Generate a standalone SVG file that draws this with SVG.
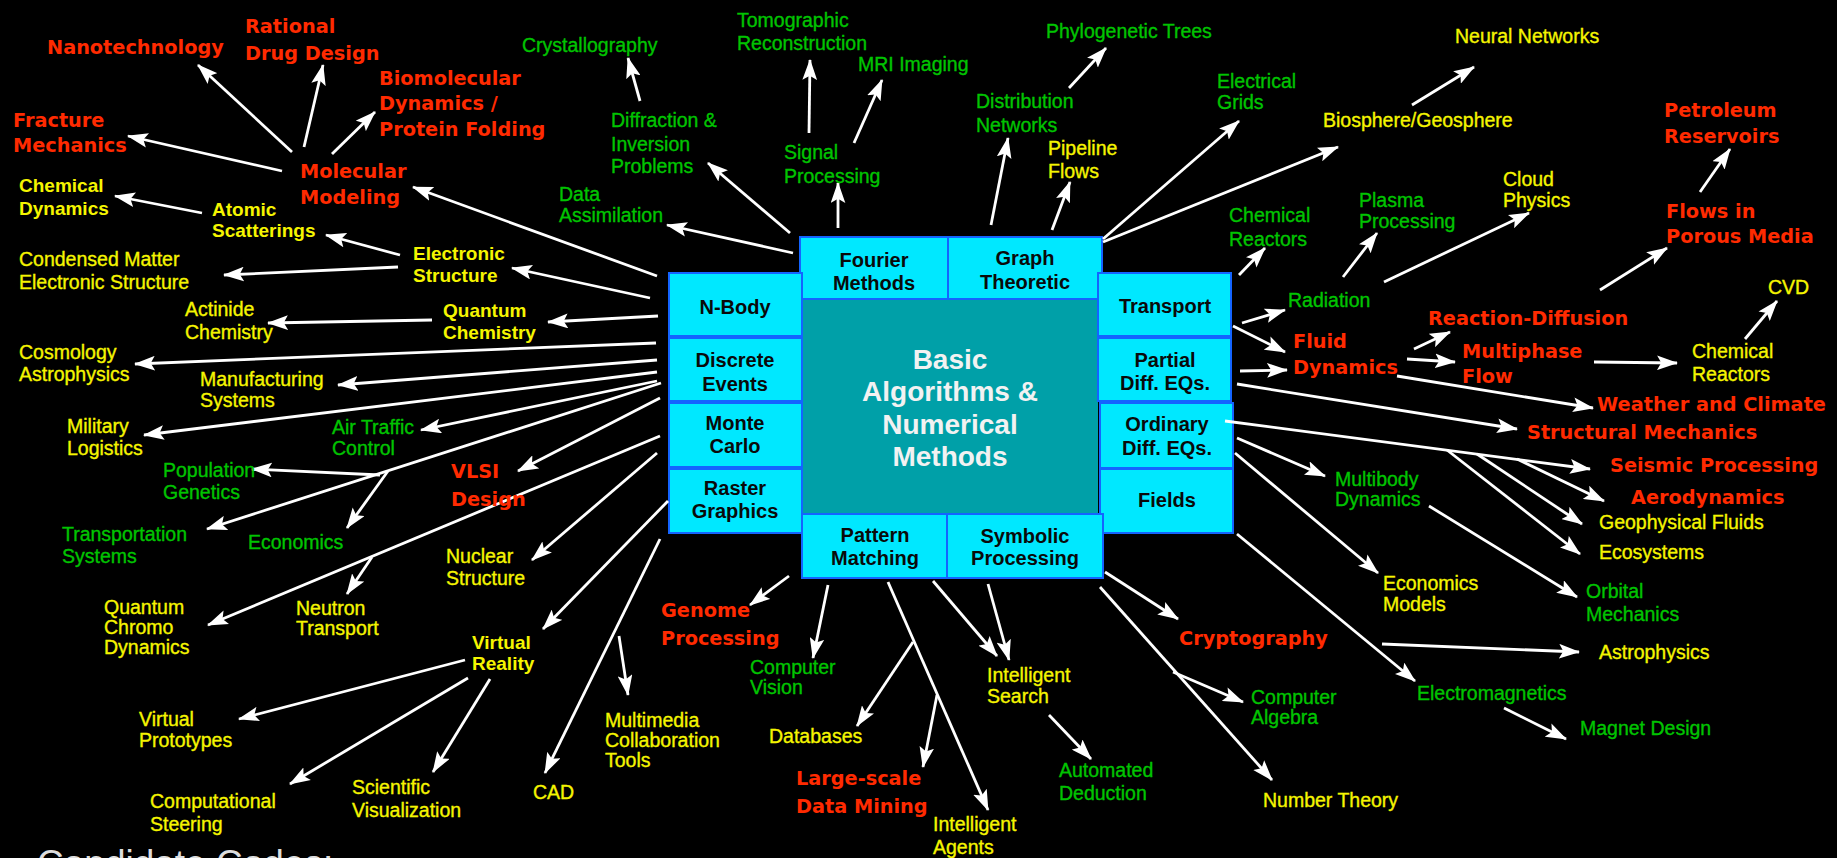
<svg xmlns="http://www.w3.org/2000/svg" width="1837" height="858" viewBox="0 0 1837 858">
<style>
.r{font-family:"DejaVu Sans","Liberation Sans",sans-serif;font-weight:bold;font-size:19.3px;fill:#FF2A00}
.y{font-family:"Liberation Sans",Arial,sans-serif;font-size:19.5px;fill:#F5F500;stroke:#F5F500;stroke-width:0.35}
.yb{font-family:"Liberation Sans",Arial,sans-serif;font-weight:bold;font-size:19px;fill:#F5F500}
.g{font-family:"Liberation Sans",Arial,sans-serif;font-size:19.5px;fill:#00C400;stroke:#00C400;stroke-width:0.35}
.box{fill:#00E8FF;stroke:#1464FF;stroke-width:2}
.bt{font-family:"Liberation Sans",Arial,sans-serif;font-weight:bold;font-size:20px;fill:#0A0A0A;text-anchor:middle}
.ct{font-family:"Liberation Sans",Arial,sans-serif;font-weight:bold;font-size:28px;fill:#F2F2F2;text-anchor:middle}
#connectors line{stroke:#FFFFFF;stroke-width:2.8;marker-end:url(#ah)}
</style>
<defs>
<marker id="ah" viewBox="0 0 20 14" refX="19" refY="7" markerWidth="21" markerHeight="15" markerUnits="userSpaceOnUse" orient="auto">
<path d="M0,0 L20,7 L0,14 L4,7 z" fill="#FFFFFF"/>
</marker>
</defs>
<rect x="0" y="0" width="1837" height="858" fill="#000000"/>

<g id="core">
<rect id="center" x="802" y="299" width="296" height="215" fill="#00A0A8"/>
<text class="ct"><tspan x="950" y="369">Basic</tspan><tspan x="950" y="401">Algorithms &amp;</tspan><tspan x="950" y="434">Numerical</tspan><tspan x="950" y="466">Methods</tspan></text>
</g>
<g id="fourier"><rect class="box" x="800" y="237" width="148" height="62"/><text class="bt"><tspan x="874" y="267">Fourier</tspan><tspan x="874" y="290">Methods</tspan></text></g>
<g id="graph"><rect class="box" x="948" y="237" width="154" height="62"/><text class="bt"><tspan x="1025" y="265">Graph</tspan><tspan x="1025" y="289">Theoretic</tspan></text></g>
<g id="nbody"><rect class="box" x="669" y="273" width="133" height="63"/><text class="bt" x="735" y="314">N-Body</text></g>
<g id="discrete"><rect class="box" x="669" y="338" width="133" height="63"/><text class="bt"><tspan x="735" y="367">Discrete</tspan><tspan x="735" y="391">Events</tspan></text></g>
<g id="montecarlo"><rect class="box" x="669" y="403" width="133" height="64"/><text class="bt"><tspan x="735" y="430">Monte</tspan><tspan x="735" y="453">Carlo</tspan></text></g>
<g id="raster"><rect class="box" x="669" y="469" width="133" height="64"/><text class="bt"><tspan x="735" y="495">Raster</tspan><tspan x="735" y="518">Graphics</tspan></text></g>
<g id="transport"><rect class="box" x="1098" y="273" width="133" height="63"/><text class="bt" x="1165" y="313">Transport</text></g>
<g id="partial"><rect class="box" x="1098" y="338" width="133" height="63"/><text class="bt"><tspan x="1165" y="367">Partial</tspan><tspan x="1165" y="390">Diff. EQs.</tspan></text></g>
<g id="ordinary"><rect class="box" x="1100" y="403" width="133" height="65"/><text class="bt"><tspan x="1167" y="431">Ordinary</tspan><tspan x="1167" y="455">Diff. EQs.</tspan></text></g>
<g id="fields"><rect class="box" x="1100" y="469" width="133" height="64"/><text class="bt" x="1167" y="507">Fields</text></g>
<g id="pattern"><rect class="box" x="802" y="514" width="145" height="64"/><text class="bt"><tspan x="875" y="542">Pattern</tspan><tspan x="875" y="565">Matching</tspan></text></g>
<g id="symbolic"><rect class="box" x="947" y="514" width="156" height="64"/><text class="bt"><tspan x="1025" y="543">Symbolic</tspan><tspan x="1025" y="565">Processing</tspan></text></g>

<g id="connectors">
<line x1="292" y1="152" x2="198" y2="65"/>
<line x1="304" y1="147" x2="323" y2="65"/>
<line x1="332" y1="154" x2="375" y2="112"/>
<line x1="282" y1="171" x2="128" y2="136"/>
<line x1="657" y1="276" x2="413" y2="187"/>
<line x1="202" y1="213" x2="115" y2="196"/>
<line x1="400" y1="255" x2="326" y2="235"/>
<line x1="398" y1="267" x2="224" y2="275"/>
<line x1="650" y1="298" x2="512" y2="268"/>
<line x1="658" y1="316" x2="548" y2="322"/>
<line x1="432" y1="320" x2="268" y2="323"/>
<line x1="656" y1="343" x2="135" y2="364"/>
<line x1="657" y1="360" x2="338" y2="385"/>
<line x1="657" y1="372" x2="144" y2="435"/>
<line x1="657" y1="381" x2="421" y2="430"/>
<line x1="661" y1="383" x2="207" y2="529"/>
<line x1="380" y1="475" x2="252" y2="469"/>
<line x1="388" y1="471" x2="347" y2="528"/>
<line x1="660" y1="398" x2="518" y2="471"/>
<line x1="660" y1="436" x2="208" y2="625"/>
<line x1="372" y1="557" x2="347" y2="594"/>
<line x1="657" y1="453" x2="532" y2="560"/>
<line x1="668" y1="501" x2="543" y2="629"/>
<line x1="660" y1="539" x2="545" y2="773"/>
<line x1="619" y1="636" x2="628" y2="695"/>
<line x1="465" y1="660" x2="239" y2="719"/>
<line x1="468" y1="678" x2="290" y2="784"/>
<line x1="490" y1="679" x2="433" y2="772"/>
<line x1="789" y1="576" x2="750" y2="605"/>
<line x1="828" y1="585" x2="813" y2="658"/>
<line x1="888" y1="582" x2="988" y2="810"/>
<line x1="913" y1="642" x2="857" y2="726"/>
<line x1="937" y1="695" x2="923" y2="767"/>
<line x1="933" y1="581" x2="997" y2="656"/>
<line x1="988" y1="584" x2="1009" y2="660"/>
<line x1="1049" y1="715" x2="1091" y2="759"/>
<line x1="1105" y1="572" x2="1178" y2="619"/>
<line x1="1100" y1="587" x2="1272" y2="780"/>
<line x1="1173" y1="672" x2="1243" y2="702"/>
<line x1="1237" y1="534" x2="1415" y2="681"/>
<line x1="1382" y1="644" x2="1579" y2="652"/>
<line x1="1504" y1="708" x2="1566" y2="739"/>
<line x1="1235" y1="453" x2="1378" y2="573"/>
<line x1="1237" y1="438" x2="1325" y2="476"/>
<line x1="1429" y1="506" x2="1577" y2="597"/>
<line x1="1225" y1="421" x2="1590" y2="469"/>
<line x1="1447" y1="450" x2="1580" y2="554"/>
<line x1="1477" y1="454" x2="1582" y2="524"/>
<line x1="1517" y1="459" x2="1604" y2="501"/>
<line x1="1237" y1="384" x2="1517" y2="429"/>
<line x1="1397" y1="376" x2="1593" y2="408"/>
<line x1="1414" y1="349" x2="1450" y2="332"/>
<line x1="1407" y1="359" x2="1455" y2="362"/>
<line x1="1594" y1="362" x2="1677" y2="363"/>
<line x1="1745" y1="339" x2="1777" y2="301"/>
<line x1="1242" y1="323" x2="1285" y2="310"/>
<line x1="1233" y1="326" x2="1285" y2="352"/>
<line x1="1240" y1="371" x2="1287" y2="370"/>
<line x1="1343" y1="277" x2="1377" y2="233"/>
<line x1="1239" y1="275" x2="1265" y2="248"/>
<line x1="1384" y1="282" x2="1529" y2="213"/>
<line x1="1600" y1="290" x2="1667" y2="248"/>
<line x1="1700" y1="192" x2="1730" y2="149"/>
<line x1="1103" y1="239" x2="1239" y2="121"/>
<line x1="1103" y1="242" x2="1338" y2="147"/>
<line x1="1412" y1="105" x2="1474" y2="67"/>
<line x1="991" y1="225" x2="1008" y2="138"/>
<line x1="1052" y1="230" x2="1070" y2="182"/>
<line x1="1069" y1="88" x2="1106" y2="48"/>
<line x1="838" y1="228" x2="838" y2="183"/>
<line x1="809" y1="133" x2="810" y2="60"/>
<line x1="854" y1="143" x2="882" y2="80"/>
<line x1="790" y1="233" x2="708" y2="163"/>
<line x1="640" y1="101" x2="628" y2="58"/>
<line x1="793" y1="253" x2="667" y2="225"/>
</g>

<g id="nanotechnology"><text class="r" x="47" y="54">Nanotechnology</text></g>
<g id="rational-drug-design"><text class="r"><tspan x="245" y="33">Rational</tspan><tspan x="245" y="60">Drug Design</tspan></text></g>
<g id="biomolecular"><text class="r"><tspan x="379" y="85">Biomolecular</tspan><tspan x="379" y="110">Dynamics /</tspan><tspan x="379" y="136">Protein Folding</tspan></text></g>
<g id="fracture-mechanics"><text class="r"><tspan x="13" y="127">Fracture</tspan><tspan x="13" y="152">Mechanics</tspan></text></g>
<g id="molecular-modeling"><text class="r"><tspan x="300" y="178">Molecular</tspan><tspan x="300" y="204">Modeling</tspan></text></g>
<g id="chemical-dynamics"><text class="yb"><tspan x="19" y="192">Chemical</tspan><tspan x="19" y="215">Dynamics</tspan></text></g>
<g id="atomic-scatterings"><text class="yb"><tspan x="212" y="216">Atomic</tspan><tspan x="212" y="237">Scatterings</tspan></text></g>
<g id="condensed-matter"><text class="y"><tspan x="19" y="266">Condensed Matter</tspan><tspan x="19" y="289">Electronic Structure</tspan></text></g>
<g id="electronic-structure"><text class="yb"><tspan x="413" y="260">Electronic</tspan><tspan x="413" y="282">Structure</tspan></text></g>
<g id="quantum-chemistry"><text class="yb"><tspan x="443" y="317">Quantum</tspan><tspan x="443" y="339">Chemistry</tspan></text></g>
<g id="actinide-chemistry"><text class="y"><tspan x="185" y="316">Actinide</tspan><tspan x="185" y="339">Chemistry</tspan></text></g>
<g id="cosmology"><text class="y"><tspan x="19" y="359">Cosmology</tspan><tspan x="19" y="381">Astrophysics</tspan></text></g>
<g id="manufacturing"><text class="y"><tspan x="200" y="386">Manufacturing</tspan><tspan x="200" y="407">Systems</tspan></text></g>
<g id="military-logistics"><text class="y"><tspan x="67" y="433">Military</tspan><tspan x="67" y="455">Logistics</tspan></text></g>
<g id="air-traffic"><text class="g"><tspan x="332" y="434">Air Traffic</tspan><tspan x="332" y="455">Control</tspan></text></g>
<g id="population-genetics"><text class="g"><tspan x="163" y="477">Population</tspan><tspan x="163" y="499">Genetics</tspan></text></g>
<g id="transportation-systems"><text class="g"><tspan x="62" y="541">Transportation</tspan><tspan x="62" y="563">Systems</tspan></text></g>
<g id="economics"><text class="g" x="248" y="549">Economics</text></g>
<g id="vlsi-design"><text class="r"><tspan x="451" y="478">VLSI</tspan><tspan x="451" y="506">Design</tspan></text></g>
<g id="nuclear-structure"><text class="y"><tspan x="446" y="563">Nuclear</tspan><tspan x="446" y="585">Structure</tspan></text></g>
<g id="qcd"><text class="y"><tspan x="104" y="614">Quantum</tspan><tspan x="104" y="634">Chromo</tspan><tspan x="104" y="654">Dynamics</tspan></text></g>
<g id="neutron-transport"><text class="y"><tspan x="296" y="615">Neutron</tspan><tspan x="296" y="635">Transport</tspan></text></g>
<g id="virtual-reality"><text class="yb"><tspan x="472" y="649">Virtual</tspan><tspan x="472" y="670">Reality</tspan></text></g>
<g id="virtual-prototypes"><text class="y"><tspan x="139" y="726">Virtual</tspan><tspan x="139" y="747">Prototypes</tspan></text></g>
<g id="computational-steering"><text class="y"><tspan x="150" y="808">Computational</tspan><tspan x="150" y="831">Steering</tspan></text></g>
<g id="scientific-visualization"><text class="y"><tspan x="352" y="794">Scientific</tspan><tspan x="352" y="817">Visualization</tspan></text></g>
<g id="cad"><text class="y" x="533" y="799">CAD</text></g>
<g id="multimedia"><text class="y"><tspan x="605" y="727">Multimedia</tspan><tspan x="605" y="747">Collaboration</tspan><tspan x="605" y="767">Tools</tspan></text></g>
<g id="genome-processing"><text class="r"><tspan x="661" y="617">Genome</tspan><tspan x="661" y="645">Processing</tspan></text></g>
<g id="computer-vision"><text class="g"><tspan x="750" y="674">Computer</tspan><tspan x="750" y="694">Vision</tspan></text></g>
<g id="databases"><text class="y" x="769" y="743">Databases</text></g>
<g id="data-mining"><text class="r"><tspan x="796" y="785">Large-scale</tspan><tspan x="796" y="813">Data Mining</tspan></text></g>
<g id="intelligent-search"><text class="y"><tspan x="987" y="682">Intelligent</tspan><tspan x="987" y="703">Search</tspan></text></g>
<g id="intelligent-agents"><text class="y"><tspan x="933" y="831">Intelligent</tspan><tspan x="933" y="854">Agents</tspan></text></g>
<g id="automated-deduction"><text class="g"><tspan x="1059" y="777">Automated</tspan><tspan x="1059" y="800">Deduction</tspan></text></g>
<g id="cryptography"><text class="r" x="1179" y="645">Cryptography</text></g>
<g id="computer-algebra"><text class="g"><tspan x="1251" y="704">Computer</tspan><tspan x="1251" y="724">Algebra</tspan></text></g>
<g id="number-theory"><text class="y" x="1263" y="807">Number Theory</text></g>
<g id="economics-models"><text class="y"><tspan x="1383" y="590">Economics</tspan><tspan x="1383" y="611">Models</tspan></text></g>
<g id="orbital-mechanics"><text class="g"><tspan x="1586" y="598">Orbital</tspan><tspan x="1586" y="621">Mechanics</tspan></text></g>
<g id="astrophysics"><text class="y" x="1599" y="659">Astrophysics</text></g>
<g id="electromagnetics"><text class="g" x="1417" y="700">Electromagnetics</text></g>
<g id="magnet-design"><text class="g" x="1580" y="735">Magnet Design</text></g>
<g id="multibody-dynamics"><text class="g"><tspan x="1335" y="486">Multibody</tspan><tspan x="1335" y="506">Dynamics</tspan></text></g>
<g id="radiation"><text class="g" x="1288" y="307">Radiation</text></g>
<g id="fluid-dynamics"><text class="r"><tspan x="1293" y="348">Fluid</tspan><tspan x="1293" y="374">Dynamics</tspan></text></g>
<g id="reaction-diffusion"><text class="r" x="1428" y="325">Reaction-Diffusion</text></g>
<g id="multiphase-flow"><text class="r"><tspan x="1462" y="358">Multiphase</tspan><tspan x="1462" y="383">Flow</tspan></text></g>
<g id="chemical-reactors-y"><text class="y"><tspan x="1692" y="358">Chemical</tspan><tspan x="1692" y="381">Reactors</tspan></text></g>
<g id="cvd"><text class="y" x="1768" y="294">CVD</text></g>
<g id="weather-climate"><text class="r" x="1597" y="411">Weather and Climate</text></g>
<g id="structural-mechanics"><text class="r" x="1527" y="439">Structural Mechanics</text></g>
<g id="seismic-processing"><text class="r" x="1610" y="472">Seismic Processing</text></g>
<g id="aerodynamics"><text class="r" x="1631" y="504">Aerodynamics</text></g>
<g id="geophysical-fluids"><text class="y" x="1599" y="529">Geophysical Fluids</text></g>
<g id="ecosystems"><text class="y" x="1599" y="559">Ecosystems</text></g>
<g id="chemical-reactors-g"><text class="g"><tspan x="1229" y="222">Chemical</tspan><tspan x="1229" y="246">Reactors</tspan></text></g>
<g id="plasma-processing"><text class="g"><tspan x="1359" y="207">Plasma</tspan><tspan x="1359" y="228">Processing</tspan></text></g>
<g id="cloud-physics"><text class="y"><tspan x="1503" y="186">Cloud</tspan><tspan x="1503" y="207">Physics</tspan></text></g>
<g id="flows-porous-media"><text class="r"><tspan x="1666" y="218">Flows in</tspan><tspan x="1666" y="243">Porous Media</tspan></text></g>
<g id="petroleum-reservoirs"><text class="r"><tspan x="1664" y="117">Petroleum</tspan><tspan x="1664" y="143">Reservoirs</tspan></text></g>
<g id="neural-networks"><text class="y" x="1455" y="43">Neural Networks</text></g>
<g id="biosphere"><text class="y" x="1323" y="127">Biosphere/Geosphere</text></g>
<g id="electrical-grids"><text class="g"><tspan x="1217" y="88">Electrical</tspan><tspan x="1217" y="109">Grids</tspan></text></g>
<g id="phylogenetic-trees"><text class="g" x="1046" y="38">Phylogenetic Trees</text></g>
<g id="distribution-networks"><text class="g"><tspan x="976" y="108">Distribution</tspan><tspan x="976" y="132">Networks</tspan></text></g>
<g id="pipeline-flows"><text class="y"><tspan x="1048" y="155">Pipeline</tspan><tspan x="1048" y="178">Flows</tspan></text></g>
<g id="tomographic"><text class="g"><tspan x="737" y="27">Tomographic</tspan><tspan x="737" y="50">Reconstruction</tspan></text></g>
<g id="mri-imaging"><text class="g" x="858" y="71">MRI Imaging</text></g>
<g id="signal-processing"><text class="g"><tspan x="784" y="159">Signal</tspan><tspan x="784" y="183">Processing</tspan></text></g>
<g id="crystallography"><text class="g" x="522" y="52">Crystallography</text></g>
<g id="diffraction"><text class="g"><tspan x="611" y="127">Diffraction &amp;</tspan><tspan x="611" y="151">Inversion</tspan><tspan x="611" y="173">Problems</tspan></text></g>
<g id="data-assimilation"><text class="g"><tspan x="559" y="201">Data</tspan><tspan x="559" y="222">Assimilation</tspan></text></g>
<g id="candidate-codes"><text x="37" y="876" font-family="Liberation Sans, Arial, sans-serif" font-size="37" fill="#DDDDDD">Candidate Codes:</text></g>
</svg>
